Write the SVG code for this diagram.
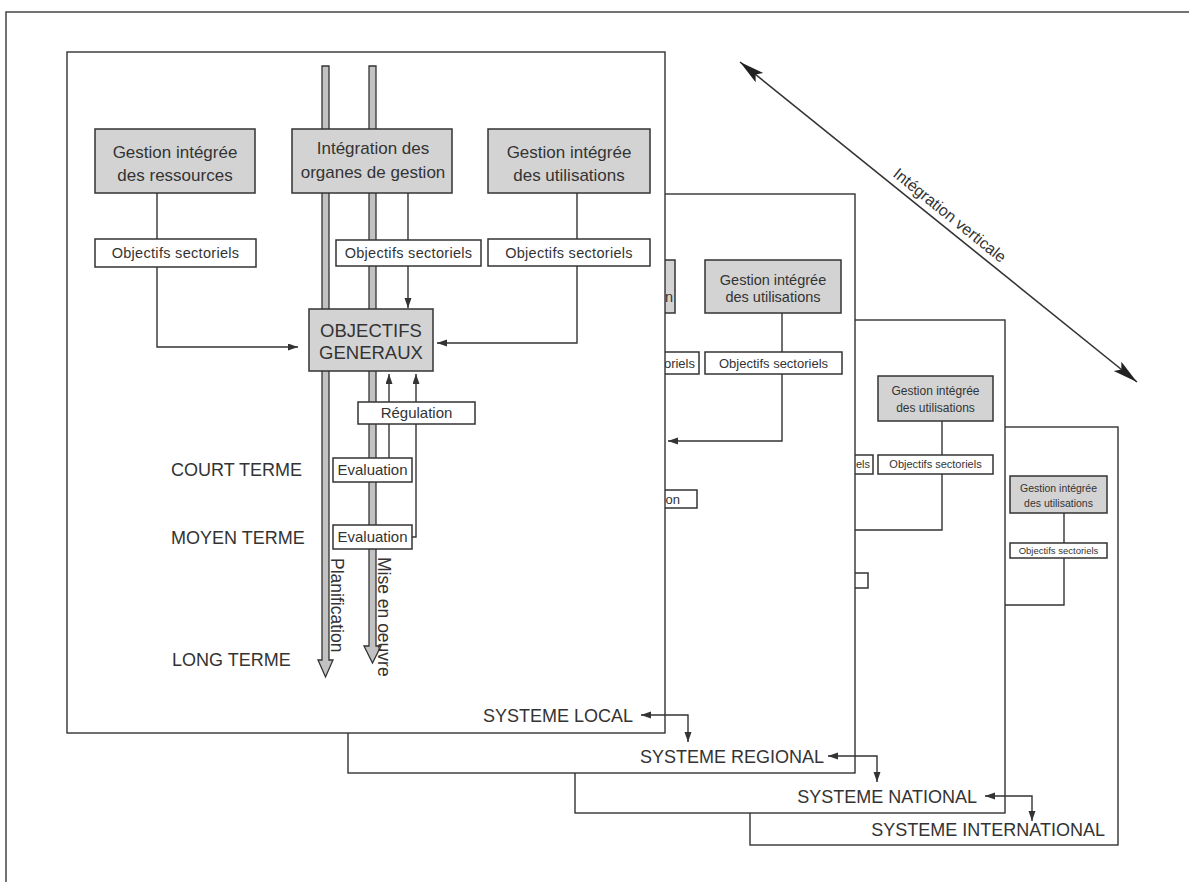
<svg xmlns="http://www.w3.org/2000/svg" width="1189" height="882" viewBox="0 0 1189 882">
<style>
text{font-family:"Liberation Sans",Arial,sans-serif;fill:#333}
.panel{fill:#fff;stroke:#333;stroke-width:1.4}
.g{fill:#d3d3d3;stroke:#333;stroke-width:1.5}
.w{fill:#fff;stroke:#333;stroke-width:1.5}
.ln{fill:none;stroke:#333;stroke-width:1.4}
.bar{fill:#c2c2c2;stroke:#333;stroke-width:1.3}
.m{text-anchor:middle}
.e{text-anchor:end}
</style>
<defs>
<marker id="ah" markerUnits="userSpaceOnUse" markerWidth="11" markerHeight="8" refX="10" refY="3.5" orient="auto-start-reverse"><path d="M0,0 L10,3.5 L0,7 z" fill="#333"/></marker>
<marker id="big" markerUnits="userSpaceOnUse" markerWidth="26" markerHeight="14" refX="25" refY="6" orient="auto-start-reverse"><path d="M0,0 L25,6 L0,12 L5,6 z" fill="#222"/></marker>
</defs>
<rect width="1189" height="882" fill="#fff"/>
<path d="M6,882 V12 H1189" fill="none" stroke="#444" stroke-width="1.5"/>

<g id="panel-international">
<rect class="panel" x="750" y="427" width="368" height="418"/>
<g id="connectors-international">
<path class="ln" d="M1064,513 V543"/>
<path class="ln" d="M1064,558 V605 H1000"/>
</g>
<g id="int-gestion"><rect class="g" x="1010" y="476" width="97" height="37"/><text class="m" x="1058.5" y="492" font-size="10.5">Gestion intégrée</text><text class="m" x="1058.5" y="507" font-size="10.5">des utilisations</text></g>
<g id="int-objectifs"><rect class="w" x="1010" y="543" width="97" height="15"/><text class="m" x="1058.5" y="554" font-size="9.5">Objectifs sectoriels</text></g>
</g>

<g id="panel-national">
<rect class="panel" x="575" y="320" width="430" height="493"/>
<g id="connectors-national">
<path class="ln" d="M942,421 V455"/>
<path class="ln" d="M942,474 V530 H850"/>
</g>
<g id="nat-gestion"><rect class="g" x="878" y="376" width="115" height="45"/><text class="m" x="935.5" y="395" font-size="12">Gestion intégrée</text><text class="m" x="935.5" y="412" font-size="12">des utilisations</text></g>
<g id="nat-objectifs"><rect class="w" x="878" y="455" width="115" height="19"/><text class="m" x="935.5" y="468" font-size="11">Objectifs sectoriels</text></g>
<g id="nat-objectifs-2"><rect class="w" x="845" y="455" width="28" height="19"/><text class="e" x="870" y="468" font-size="11">els</text></g>
<g id="nat-regulation"><rect class="w" x="845" y="573" width="23" height="15"/></g>
</g>

<g id="panel-regional">
<rect class="panel" x="348" y="194" width="507" height="579"/>
<g id="connectors-regional">
<path class="ln" d="M782,313 V352"/>
<path class="ln" d="M782,374 V441 H668" marker-end="url(#ah)"/>
</g>
<g id="reg-integration"><rect class="g" x="655" y="260" width="20" height="53"/><text class="e" x="673" y="302" font-size="14.5">n</text></g>
<g id="reg-gestion"><rect class="g" x="705" y="260" width="136" height="53"/><text class="m" x="773" y="285" font-size="14.5">Gestion intégrée</text><text class="m" x="773" y="302" font-size="14.5">des utilisations</text></g>
<g id="reg-objectifs-2"><rect class="w" x="655" y="352" width="44" height="22"/><text class="e" x="695" y="368" font-size="13">oriels</text></g>
<g id="reg-objectifs"><rect class="w" x="705" y="352" width="137" height="22"/><text class="m" x="773.5" y="368" font-size="13">Objectifs sectoriels</text></g>
<g id="reg-regulation"><rect class="w" x="655" y="490" width="42" height="18"/><text class="e" x="680" y="504" font-size="13">on</text></g>
</g>

<g id="panel-local">
<rect class="panel" x="67" y="52" width="598" height="681"/>
<g id="bar-planification"><path class="bar" d="M322,66 H329 V660 H333 L325.5,677 L318,660 H322 Z"/><text transform="translate(331,558) rotate(90)" font-size="17.5">Planification</text></g>
<g id="bar-mise-en-oeuvre"><path class="bar" d="M369,66 H376 V646 H381 L372.5,663 L364,646 H369 Z"/><text transform="translate(378,557) rotate(90)" font-size="17.5">Mise en oeuvre</text></g>
<g id="connectors-local">
<path class="ln" d="M157,193 V239"/>
<path class="ln" d="M157,267 V347 H298" marker-end="url(#ah)"/>
<path class="ln" d="M408,193 V240"/>
<path class="ln" d="M408,266 V308" marker-end="url(#ah)"/>
<path class="ln" d="M577,193 V239"/>
<path class="ln" d="M577,266 V343 H437" marker-end="url(#ah)"/>
<path class="ln" d="M389,458 V374" marker-end="url(#ah)"/>
<path class="ln" d="M412,537 H416 V374" marker-end="url(#ah)"/>
</g>
<g id="gestion-ressources"><rect class="g" x="95" y="129" width="160" height="64"/><text class="m" x="175" y="158" font-size="17">Gestion intégrée</text><text class="m" x="175" y="181" font-size="17">des ressources</text></g>
<g id="integration-organes"><rect class="g" x="292" y="129" width="160" height="64"/><text class="m" x="373" y="154" font-size="17">Intégration des</text><text class="m" x="373" y="178" font-size="17">organes de gestion</text></g>
<g id="gestion-utilisations"><rect class="g" x="488" y="129" width="162" height="64"/><text class="m" x="569" y="158" font-size="17">Gestion intégrée</text><text class="m" x="569" y="181" font-size="17">des utilisations</text></g>
<g id="objectifs-1"><rect class="w" x="95" y="239" width="161" height="28"/><text class="m" x="175.5" y="258" font-size="14.5" letter-spacing="0.3">Objectifs sectoriels</text></g>
<g id="objectifs-2"><rect class="w" x="336" y="240" width="145" height="26"/><text class="m" x="408.5" y="258" font-size="14.5" letter-spacing="0.3">Objectifs sectoriels</text></g>
<g id="objectifs-3"><rect class="w" x="488" y="239" width="162" height="27"/><text class="m" x="569" y="258" font-size="14.5" letter-spacing="0.3">Objectifs sectoriels</text></g>
<g id="objectifs-generaux"><rect class="g" x="309" y="309" width="124" height="62"/><text class="m" x="371" y="337" font-size="18.5">OBJECTIFS</text><text class="m" x="371" y="359" font-size="18.5">GENERAUX</text></g>
<g id="regulation"><rect class="w" x="358" y="402" width="117" height="22"/><text class="m" x="416.5" y="418" font-size="15">Régulation</text></g>
<g id="evaluation-1"><rect class="w" x="333" y="458" width="79" height="24"/><text class="m" x="372.5" y="475" font-size="15">Evaluation</text></g>
<g id="evaluation-2"><rect class="w" x="333" y="525" width="79" height="24"/><text class="m" x="372.5" y="542" font-size="15">Evaluation</text></g>
<text x="171" y="476" font-size="18">COURT TERME</text>
<text x="171" y="544" font-size="18">MOYEN TERME</text>
<text x="172" y="666" font-size="18">LONG TERME</text>
</g>

<g id="system-labels">
<text class="e" x="633" y="722" font-size="18">SYSTEME LOCAL</text>
<text class="e" x="824" y="763" font-size="18">SYSTEME REGIONAL</text>
<text class="e" x="977" y="803" font-size="18">SYSTEME NATIONAL</text>
<text class="e" x="1105" y="836" font-size="18">SYSTEME INTERNATIONAL</text>
</g>
<g id="connectors">
<path class="ln" d="M688,742 V715 H641" marker-start="url(#ah)" marker-end="url(#ah)"/>
<path class="ln" d="M877,782 V756 H828" marker-start="url(#ah)" marker-end="url(#ah)"/>
<path class="ln" d="M1032,821 V796 H985" marker-start="url(#ah)" marker-end="url(#ah)"/>
<path d="M740,62 L1137,382" fill="none" stroke="#333" stroke-width="1.6" marker-start="url(#big)" marker-end="url(#big)"/>
</g>
<g id="label-integration-verticale"><text transform="translate(942,225) rotate(38.9)" x="0" y="-7" class="m" font-size="16">Intégration verticale</text></g>
</svg>
